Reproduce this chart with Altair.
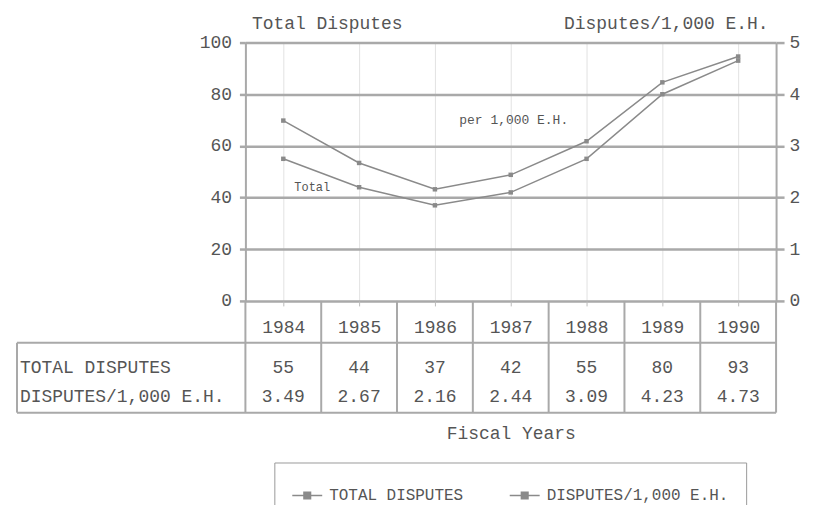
import altair as alt
import pandas as pd

# ---------------- data ----------------
years = [1984, 1985, 1986, 1987, 1988, 1989, 1990]
total_disputes = [55, 44, 37, 42, 55, 80, 93]
per_1000 = [3.49, 2.67, 2.16, 2.44, 3.09, 4.23, 4.73]
series_names = ["TOTAL DISPUTES", "DISPUTES/1,000 E.H."]
row_labels = ["TOTAL DISPUTES", "DISPUTES/1,000 E.H."]
left_ticks = [0, 20, 40, 60, 80, 100]
right_ticks = [0, 1, 2, 3, 4, 5]
left_title = "Total Disputes"
right_title = "Disputes/1,000 E.H."
x_title = "Fiscal Years"
note_per = "per 1,000 E.H."
note_total = "Total"

# ---------------- styles ----------------
FONT = "Liberation Mono"
TXT = "#555555"
LINE = "#8a8a8a"
GRID = "#a9a9a9"
W, H = 532, 259

df_total = pd.DataFrame({"year": years, "value": total_disputes, "series": series_names[0]})
df_per = pd.DataFrame({"year": years, "value": per_1000, "series": series_names[1]})
df_table = pd.DataFrame({"year": years, "total": total_disputes, "per": per_1000})
df_bounds = pd.DataFrame({"year": [y - 0.5 for y in years] + [years[-1] + 0.5]})
one = pd.DataFrame({"k": [0]})

x_scale = alt.Scale(domain=[years[0] - 0.5, years[-1] + 0.5], nice=False, zero=False)
x_axis = alt.Axis(
    values=years, format="d", title=x_title, grid=True, gridColor="#e2e2e2", gridWidth=1,
    domain=False, tickSize=5, tickColor="#bbbbbb", labelPadding=22, labelBaseline="middle",
    labelFont=FONT, labelFontSize=18, labelColor=TXT, titleFont=FONT, titleFontSize=18,
    titleFontWeight="normal", titleColor=TXT, titleY=133, titleBaseline="middle",
)
x_enc = alt.X("year:Q", scale=x_scale, axis=x_axis)

color = alt.Color(
    "series:N",
    scale=alt.Scale(domain=series_names, range=[LINE, LINE]),
    legend=alt.Legend(
        title=None, orient="none", legendX=29, legendY=421, direction="horizontal",
        strokeColor="#9a9a9a", padding=17,
        symbolType="M-1,0L1,0M-0.22,-0.22L0.22,-0.22L0.22,0.22L-0.22,0.22Z",
        symbolSize=900, symbolStrokeWidth=1.5, symbolFillColor=LINE,
        labelFont=FONT, labelFontSize=16, labelColor=TXT, labelOffset=6,
        labelLimit=0, columnPadding=43,
    ),
)

# table structure
col_rules = alt.Chart(df_bounds).mark_rule(color=GRID, strokeWidth=2).encode(
    x=x_enc, y=alt.value(H), y2=alt.value(371)
)
hline1 = alt.Chart(one).mark_rule(color=GRID, strokeWidth=2).encode(
    x=alt.value(-229), x2=alt.value(W), y=alt.value(301)
)
hline2 = alt.Chart(one).mark_rule(color=GRID, strokeWidth=2).encode(
    x=alt.value(-229), x2=alt.value(W), y=alt.value(371)
)
vborder = alt.Chart(one).mark_rule(color=GRID, strokeWidth=2).encode(
    x=alt.value(-229), y=alt.value(301), y2=alt.value(371)
)

total_line = alt.Chart(df_total).mark_line(
    strokeWidth=1.5,
    point=alt.OverlayMarkDef(shape="square", size=20, filled=True),
).encode(
    x=x_enc,
    y=alt.Y(
        "value:Q",
        scale=alt.Scale(domain=[0, 100], nice=False),
        axis=alt.Axis(
            orient="left", values=left_ticks, grid=True, gridColor=GRID, gridWidth=2.5,
            domainColor=GRID, domainWidth=2, tickColor=GRID, tickWidth=2.5, tickSize=6,
            labelPadding=8, labelFont=FONT, labelFontSize=18, labelColor=TXT,
            title=left_title, titleAngle=0, titleAlign="left", titleX=6, titleY=-19,
            titleBaseline="middle", titleFont=FONT, titleFontSize=18,
            titleFontWeight="normal", titleColor=TXT,
        ),
    ),
    color=color,
)

per_line = alt.Chart(df_per).mark_line(
    strokeWidth=1.5,
    point=alt.OverlayMarkDef(shape="square", size=20, filled=True),
).encode(
    x=x_enc,
    y=alt.Y(
        "value:Q",
        scale=alt.Scale(domain=[0, 5], nice=False),
        axis=alt.Axis(
            orient="right", values=right_ticks, grid=False,
            domainColor=GRID, domainWidth=2, tickColor=GRID, tickWidth=2.5, tickSize=8,
            labelPadding=5, labelFont=FONT, labelFontSize=18, labelColor=TXT,
            title=right_title, titleAngle=0, titleAlign="right", titleX=-8, titleY=-19,
            titleBaseline="middle", titleFont=FONT, titleFontSize=18,
            titleFontWeight="normal", titleColor=TXT,
        ),
    ),
    color=color,
)

row1 = alt.Chart(df_table).mark_text(font=FONT, fontSize=18, color=TXT, baseline="middle").encode(
    x=x_enc, y=alt.value(326), text=alt.Text("total:Q", format="d")
)
row2 = alt.Chart(df_table).mark_text(font=FONT, fontSize=18, color=TXT, baseline="middle").encode(
    x=x_enc, y=alt.value(355), text=alt.Text("per:Q", format=".2f")
)
lab1 = alt.Chart(one).mark_text(font=FONT, fontSize=18, color=TXT, align="left", baseline="middle").encode(
    x=alt.value(-226), y=alt.value(326), text=alt.value(row_labels[0])
)
lab2 = alt.Chart(one).mark_text(font=FONT, fontSize=18, color=TXT, align="left", baseline="middle").encode(
    x=alt.value(-226), y=alt.value(355), text=alt.value(row_labels[1])
)
ann1 = alt.Chart(one).mark_text(font=FONT, fontSize=13, color=TXT, baseline="middle").encode(
    x=alt.value(269), y=alt.value(78), text=alt.value(note_per)
)
ann2 = alt.Chart(one).mark_text(font=FONT, fontSize=12, color=TXT, baseline="middle").encode(
    x=alt.value(67), y=alt.value(145), text=alt.value(note_total)
)

chart = (
    alt.layer(col_rules, hline1, hline2, vborder, total_line, per_line,
              row1, row2, lab1, lab2, ann1, ann2)
    .resolve_scale(y="independent")
    .properties(width=W, height=H, padding={"left": 8, "top": 6, "right": 5, "bottom": 0})
    .configure_view(stroke="transparent")
)

chart.save("out.html", embed_options={"renderer": "svg", "actions": False})
